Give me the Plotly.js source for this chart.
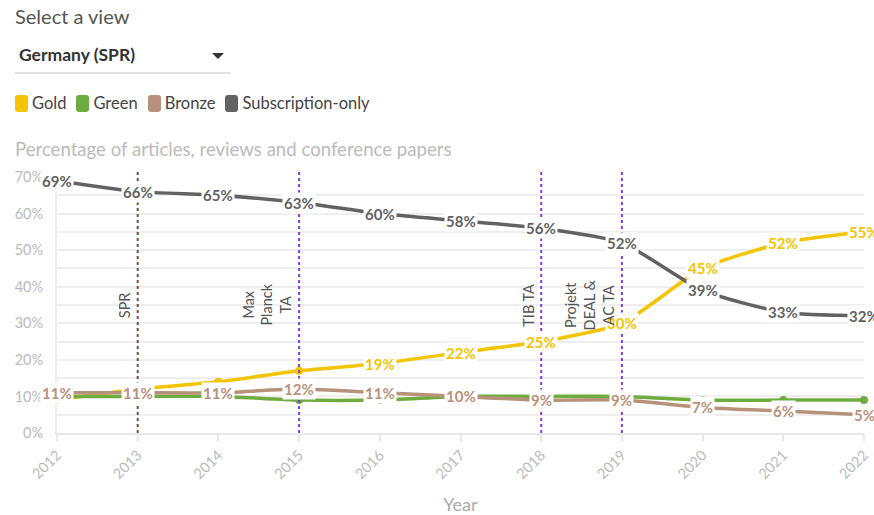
<!DOCTYPE html>
<html>
<head>
<meta charset="utf-8">
<script src="https://cdn.plot.ly/plotly-3.0.1.min.js"></script>
<style>
  html, body { margin:0; padding:0; background:#fff; width:874px; height:515px; overflow:hidden; font-family: Lato, "Open Sans", sans-serif; }
  #chart { position:absolute; left:0; top:0; width:874px; height:515px; }
  .hdr { position:absolute; left:15px; top:4px; font-size:20px; color:#555; }
  .dd { position:absolute; left:15px; top:44px; width:216px; height:28px; border-bottom:2px solid #e2e2e2; }
  .dd span { position:absolute; left:4px; top:0px; font-size:17.5px; font-weight:bold; color:#333; }
  .dd i { position:absolute; left:197px; top:9px; width:0; height:0; border-left:6px solid transparent; border-right:6px solid transparent; border-top:6px solid #333; }
  #legend { position:absolute; left:15px; top:93px; font-size:16.5px; color:#444; display:flex; align-items:center; }
  #legend .it { display:flex; align-items:center; margin-right:10px; }
  #legend .sw { width:13px; height:17px; border-radius:3px; margin-right:4px; }
  .ttl { position:absolute; left:15px; top:138px; font-size:18.6px; color:#bbb; }
</style>
</head>
<body>
<div id="chart"></div>
<div class="hdr">Select a view</div>
<div class="dd"><span>Germany (SPR)</span><i></i></div>
<div id="legend"></div>
<div class="ttl">Percentage of articles, reviews and conference papers</div>
<script>
const years = [2012, 2013, 2014, 2015, 2016, 2017, 2018, 2019, 2020, 2021, 2022];
const gold = [9, 12, 14, 17, 19, 22, 25, 30, 45, 52, 55];
const green = [10, 10, 10, 9, 9, 10, 10, 10, 9, 9, 9];
const bronze = [11, 11, 11, 12, 11, 10, 9, 9, 7, 6, 5];
const subscription = [69, 66, 65, 63, 60, 58, 56, 52, 39, 33, 32];

const seriesNames = ["Gold", "Green", "Bronze", "Subscription-only"];
const seriesColors = ["#f5c400", "#6fac3f", "#b8917a", "#626262"];
// which points carry a visible value label
const goldLabelled = [false, false, false, false, true, true, true, true, true, true, true];
const greenLabelled = [false, false, false, false, false, false, false, false, false, false, false];
const bronzeLabelled = [true, true, true, true, true, true, true, true, true, true, true];
const subscriptionLabelled = [true, true, true, true, true, true, true, true, true, true, true];

const eventYears = [2013, 2015, 2018, 2019];
const eventLabels = ["SPR", "Max<br>Planck<br>TA", "TIB TA", "Projekt<br>DEAL &<br>AC TA"];
const eventColors = ["#7a4a3a", "#7d3ce8", "#7d3ce8", "#7d3ce8"];

const allSeries = [gold, green, bronze, subscription];
const allLabelled = [goldLabelled, greenLabelled, bronzeLabelled, subscriptionLabelled];

// HTML legend
const lg = document.getElementById('legend');
seriesNames.forEach((n, i) => {
  const d = document.createElement('div'); d.className = 'it';
  d.innerHTML = '<div class="sw" style="background:' + seriesColors[i] + '"></div>' + n;
  lg.appendChild(d);
});

const traces = allSeries.map((vals, i) => ({
  x: years, y: vals, type: 'scatter', mode: 'lines+markers', name: seriesNames[i],
  line: { color: seriesColors[i], width: 3.5, shape: 'spline', smoothing: 0.6 },
  marker: { color: seriesColors[i], size: 8 },
  cliponaxis: false, hoverinfo: 'skip'
}));

const annotations = [];
allSeries.forEach((vals, i) => {
  vals.forEach((v, j) => {
    if (!allLabelled[i][j]) return;
    annotations.push({
      x: years[j], y: v, xref: 'x', yref: 'y', text: v + '%', showarrow: false,
      font: { family: 'Lato, sans-serif', size: 15, color: seriesColors[i], weight: 'bold' },
      bgcolor: '#ffffff', borderpad: 1, xanchor: 'center', yanchor: 'middle'
    });
  });
});
eventYears.forEach((yr, i) => {
  annotations.push({
    x: yr, y: 35, xref: 'x', yref: 'y', text: eventLabels[i], showarrow: false,
    textangle: -90, xanchor: 'right', yanchor: 'middle', xshift: -3,
    font: { family: 'Lato, sans-serif', size: 14.5, color: '#555' }
  });
});

const shapes = eventYears.map((yr, i) => ({
  type: 'line', xref: 'x', yref: 'paper', x0: yr, x1: yr, y0: 0, y1: 1.03,
  line: { color: eventColors[i], width: 2, dash: 'dot' }, layer: 'above'
}));

const layout = {
  width: 874, height: 515,
  margin: { l: 57, r: 10, t: 177, b: 82 },
  paper_bgcolor: 'rgba(0,0,0,0)', plot_bgcolor: 'rgba(0,0,0,0)',
  showlegend: false,
  font: { family: 'Lato, sans-serif' },
  xaxis: {
    range: [2012, 2022], tickvals: years, tickangle: -45,
    tickfont: { size: 14.5, color: '#bbb' }, showgrid: false, zeroline: false,
    ticks: 'outside', ticklen: 6, tickcolor: '#e8e8e8', tickwidth: 2,
    showline: true, linecolor: '#e8e8e8', linewidth: 2,
    title: { text: 'Year', font: { size: 18, color: '#aaa' }, standoff: 33 }
  },
  yaxis: {
    range: [0, 70], dtick: 10, ticksuffix: '%',
    tickfont: { size: 14.5, color: '#bbb' }, ticklabelstandoff: 9,
    gridcolor: '#eeeeee', gridwidth: 2, zeroline: false,
    showline: true, linecolor: '#eeeeee', linewidth: 2,
    minor: { dtick: 5, showgrid: true, gridcolor: '#eeeeee', gridwidth: 2 },
    ticks: '', automargin: false
  },
  shapes: shapes,
  annotations: annotations
};

Plotly.newPlot('chart', traces, layout, { displayModeBar: false, staticPlot: true });
</script>
</body>
</html>
